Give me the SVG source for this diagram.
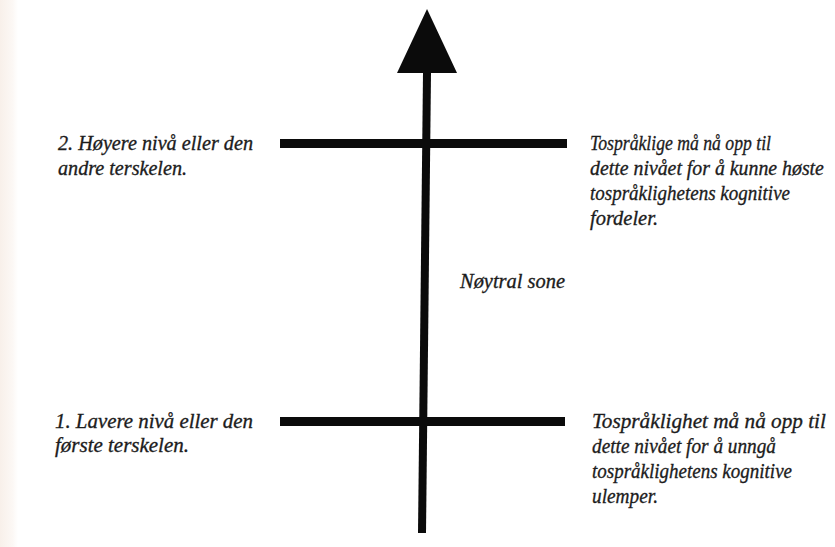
<svg xmlns="http://www.w3.org/2000/svg" width="835" height="547" viewBox="0 0 835 547">
  <style>
    text { font-family: 'Liberation Serif', 'Times New Roman', 'DejaVu Serif', serif; font-style: italic; font-size: 22px; fill: #1c1c1c; stroke: #1c1c1c; stroke-width: 0.35px; }
    .bar { fill: #0b0b0b; }
  </style>
  <defs>
    <linearGradient id="edge" x1="0" y1="0" x2="1" y2="0">
      <stop offset="0" stop-color="#f8f0ea"/>
      <stop offset="0.7" stop-color="#fcf8f5"/>
      <stop offset="1" stop-color="#ffffff"/>
    </linearGradient>
  </defs>
  <rect x="0" y="0" width="835" height="547" fill="#ffffff"/>
  <rect x="0" y="0" width="18" height="547" fill="url(#edge)"/>

  <g id="connectors">
    <polygon points="423,73 431,73 426,533 418,533" fill="#0b0b0b"/>
    <polygon points="427,9 457,73 397,73" fill="#0b0b0b"/>
  </g>

  <g id="threshold-2">
    <rect class="bar" x="280" y="139" width="287" height="9"/>
  </g>
  <g id="threshold-1">
    <rect class="bar" x="280" y="417" width="285" height="9"/>
  </g>

  <g id="label-upper-left">
    <text x="58" y="150" textLength="195" lengthAdjust="spacingAndGlyphs">2. Høyere nivå eller den</text>
    <text x="58" y="175" textLength="129" lengthAdjust="spacingAndGlyphs">andre terskelen.</text>
  </g>

  <g id="label-upper-right">
    <text x="590" y="150" textLength="181" lengthAdjust="spacingAndGlyphs">Tospråklige må nå opp til</text>
    <text transform="translate(590 175) scale(0.86 1)" x="0" y="0" textLength="272" lengthAdjust="spacingAndGlyphs">dette nivået for å kunne høste</text>
    <text x="590" y="200" textLength="200" lengthAdjust="spacingAndGlyphs">tospråklighetens kognitive</text>
    <text x="590" y="225" textLength="68" lengthAdjust="spacingAndGlyphs">fordeler.</text>
  </g>

  <g id="label-neutral">
    <text x="460" y="288" textLength="105" lengthAdjust="spacingAndGlyphs">Nøytral sone</text>
  </g>

  <g id="label-lower-left">
    <text x="55" y="428" textLength="198" lengthAdjust="spacingAndGlyphs">1. Lavere nivå eller den</text>
    <text x="55" y="452" textLength="134" lengthAdjust="spacingAndGlyphs">første terskelen.</text>
  </g>

  <g id="label-lower-right">
    <text transform="translate(592 428) scale(0.86 1)" x="0" y="0" textLength="272" lengthAdjust="spacingAndGlyphs">Tospråklighet må nå opp til</text>
    <text x="592" y="453" textLength="184" lengthAdjust="spacingAndGlyphs">dette nivået for å unngå</text>
    <text x="592" y="478" textLength="200" lengthAdjust="spacingAndGlyphs">tospråklighetens kognitive</text>
    <text x="592" y="503" textLength="66" lengthAdjust="spacingAndGlyphs">ulemper.</text>
  </g>
</svg>
